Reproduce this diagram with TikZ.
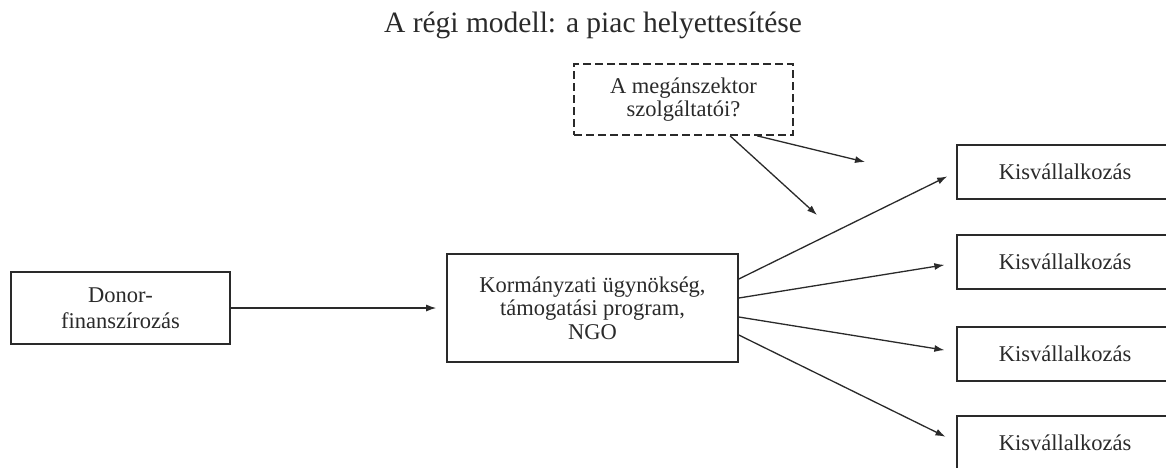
\documentclass[tikz,border=0pt]{standalone}
\usepackage{fontspec}
\setmainfont{Liberation Serif}
\usetikzlibrary{arrows.meta}
\definecolor{ink}{HTML}{2A2A2A}
\tikzset{
  box/.style={draw=ink, line width=1.6pt, rectangle, align=center, inner sep=0pt,
    font=\fontsize{22.5}{23.5}\selectfont, text=ink},
  kbox/.style={box, minimum width=216pt, minimum height=54pt},
  arr/.style={draw=ink, line width=1.3pt, -{Latex[length=10pt,width=7pt]}},
}
\begin{document}
\begin{tikzpicture}[x=1pt,y=-1pt]
\useasboundingbox (0,0) rectangle (1166,467);
\clip (0,0) rectangle (1166,467);
\fill[white] (0,0) rectangle (1166,467);
\node[anchor=base, font=\fontsize{29.5}{32}\selectfont, text=ink] (title) at (593,32) {A régi modell: a piac helyettesítése};
\node[box, minimum width=219pt, minimum height=72pt, font=\fontsize{22.5}{26}\selectfont] (donor) at (120.5,308) {Donor-\\finanszírozás};
\node[box, minimum width=291pt, minimum height=108pt] (gov) at (592.5,308) {Kormányzati ügynökség,\\támogatási program,\\NGO};
\node[box, dash pattern=on 8pt off 4pt, minimum width=219pt, minimum height=71pt] (priv) at (683.5,99.5) {A megánszektor\\szolgáltatói?};
\node[kbox] (k1) at (1065,172) {Kisvállalkozás};
\node[kbox] (k2) at (1065,262) {Kisvállalkozás};
\node[kbox] (k3) at (1065,354) {Kisvállalkozás};
\node[kbox] (k4) at (1065,443) {Kisvállalkozás};
\coordinate (p1) at (865,162);
\coordinate (p2) at (817,215);
\draw[arr, shorten >=10pt] (donor.east) -- (gov.west);
\draw[arr, shorten >=10pt] ([yshift=29pt]gov.east) -- (k1.west);
\draw[arr, shorten >=12pt] ([yshift=10pt]gov.east) -- ([yshift=-1pt]k2.west);
\draw[arr, shorten >=12pt] ([yshift=-9pt]gov.east) -- ([yshift=2pt]k3.west);
\draw[arr, shorten >=12pt] ([yshift=-27pt]gov.east) -- ([yshift=1pt]k4.west);
\draw[arr] ([xshift=73.5pt]priv.south) -- (p1);
\draw[arr] ([xshift=46.5pt]priv.south) -- (p2);
\end{tikzpicture}
\end{document}
